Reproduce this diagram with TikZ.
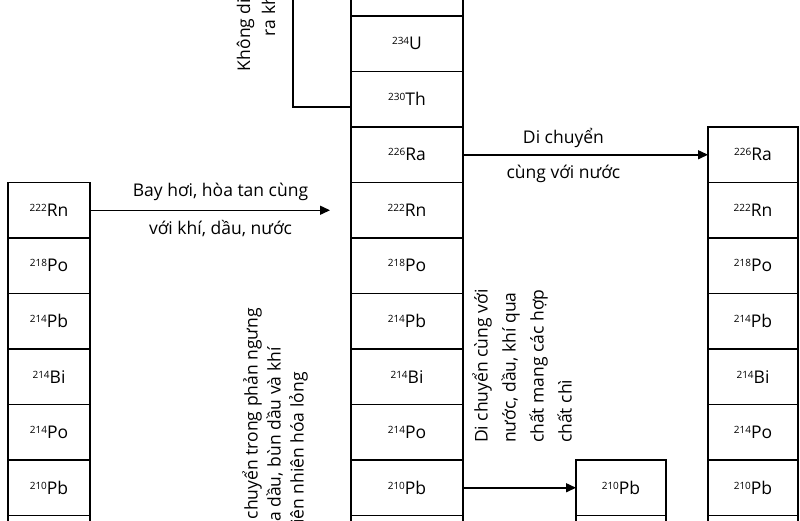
\documentclass[tikz,border=0pt]{standalone}
\usepackage{fontspec}
\setmainfont{Open Sans}
\usetikzlibrary{positioning,arrows.meta}

\newcommand{\nuc}[2]{\raisebox{0.55ex}{\fontsize{10}{10}\selectfont #1}#2}

\begin{document}
\begin{tikzpicture}[
    x=1pt, y=-1pt,
    node distance=0pt,
    font=\fontsize{17.5}{20}\selectfont,
    cell/.style={draw, rectangle, line width=1.8pt, outer sep=0pt, inner sep=0pt, minimum height=55.5pt},
    mainbox/.style={cell, minimum width=112pt},
    leftbox/.style={cell, minimum width=82pt},
    rightbox/.style={cell, minimum width=90pt},
    line/.style={draw, line width=1.5pt, -{Triangle[length=10pt, width=9pt]}},
    link/.style={draw, line width=1.5pt},
    note/.style={rotate=90, align=left, anchor=west, inner sep=0pt}
]
    \useasboundingbox (0,0) rectangle (800,520);
    \clip (0,0) rectangle (800,520);

    % decay chain in the rock
    \node [mainbox] (u238) at (407,-11.75) {};
    \node [mainbox, below=of u238] (u234) {\nuc{234}{U}};
    \node [mainbox, below=of u234] (th230) {\nuc{230}{Th}};
    \node [mainbox, below=of th230] (ra226C) {\nuc{226}{Ra}};
    \node [mainbox, below=of ra226C] (rn222C) {\nuc{222}{Rn}};
    \node [mainbox, below=of rn222C] (po218C) {\nuc{218}{Po}};
    \node [mainbox, below=of po218C] (pb214C) {\nuc{214}{Pb}};
    \node [mainbox, below=of pb214C] (bi214C) {\nuc{214}{Bi}};
    \node [mainbox, below=of bi214C] (po214C) {\nuc{214}{Po}};
    \node [mainbox, below=of po214C] (pb210C) {\nuc{210}{Pb}};
    \node [mainbox, below=of pb210C] (endC) {};

    % radon carried away
    \node [leftbox, left=261pt of rn222C] (rn222L) {\nuc{222}{Rn}};
    \node [leftbox, below=of rn222L] (po218L) {\nuc{218}{Po}};
    \node [leftbox, below=of po218L] (pb214L) {\nuc{214}{Pb}};
    \node [leftbox, below=of pb214L] (bi214L) {\nuc{214}{Bi}};
    \node [leftbox, below=of bi214L] (po214L) {\nuc{214}{Po}};
    \node [leftbox, below=of po214L] (pb210L) {\nuc{210}{Pb}};
    \node [leftbox, below=of pb210L] (endL) {};

    % radium carried by water
    \node [rightbox, right=245pt of ra226C] (ra226R) {\nuc{226}{Ra}};
    \node [rightbox, below=of ra226R] (rn222R) {\nuc{222}{Rn}};
    \node [rightbox, below=of rn222R] (po218R) {\nuc{218}{Po}};
    \node [rightbox, below=of po218R] (pb214R) {\nuc{214}{Pb}};
    \node [rightbox, below=of pb214R] (bi214R) {\nuc{214}{Bi}};
    \node [rightbox, below=of bi214R] (po214R) {\nuc{214}{Po}};
    \node [rightbox, below=of po214R] (pb210R) {\nuc{210}{Pb}};
    \node [rightbox, below=of pb210R] (endR) {};

    % lead carried away
    \node [rightbox, right=113pt of pb210C] (pb210M) {\nuc{210}{Pb}};
    \node [rightbox, below=of pb210M] (endM) {};

    \path [line, shorten >=21pt] (rn222L) -- node[above=5pt] {Bay hơi, hòa tan cùng} node[below=6pt] {với khí, dầu, nước} (rn222C);
    \path [line] (ra226C) -- node[pos=0.41, above=3pt] {Di chuyển} node[pos=0.41, below=6pt] {cùng với nước} (ra226R);
    \path [line] (pb210C) -- (pb210M);

    \coordinate (staytop) at (293,-5);
    \path [link] ([yshift=-7.5pt]th230.west) -| (staytop);

    \node [note, align=right, anchor=east, font=\fontsize{17.5}{25}\selectfont] (staytext) at (257,-65) {Không di chuyển\\ra không khí};
    \node [note, font=\fontsize{17.5}{23}\selectfont] (condtext) at (275,541) {Di chuyển trong phản ngưng\\của dầu, bùn dầu và khí\\thiên nhiên hóa lỏng};
    \node [note, font=\fontsize{17.5}{28}\selectfont] (leadtext) at (522,443) {Di chuyển cùng với\\nước, dầu, khí qua\\chất mang các hợp\\chất chì};
\end{tikzpicture}
\end{document}
